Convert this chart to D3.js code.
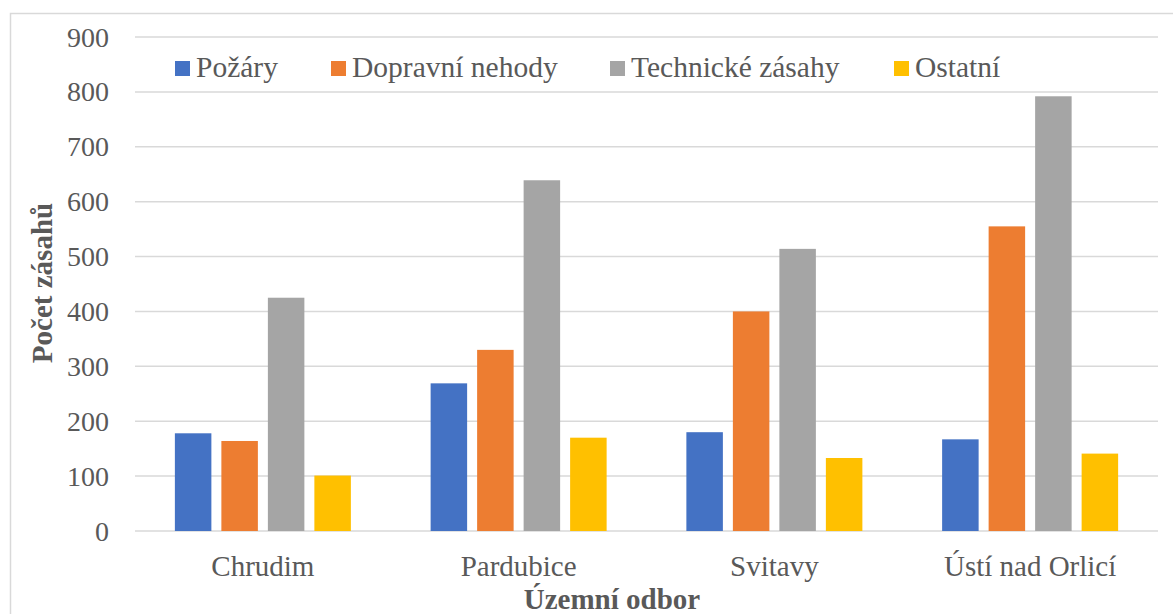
<!DOCTYPE html>
<html>
    <head>
        <title>Počet zásahů</title>
        <meta charset="UTF-8">
        <script type="text/javascript" src="https://cdnjs.cloudflare.com/ajax/libs/d3/7.8.5/d3.min.js"></script>
        <style type="text/css">
            body { margin: 0; background: #fff; }
        </style>
    </head>
    <body>
        <div id="chart"></div>

        <script type="text/javascript">

            var svgW = 1173;
            var svgH = 614;
            var fontFam = "'Liberation Serif', 'Times New Roman', serif";
            var textColor = "#595959";

            // categories (územní odbor)
            var categories = ["Chrudim", "Pardubice", "Svitavy", "Ústí nad Orlicí"];
            var seriesNames = ["Požáry", "Dopravní nehody", "Technické zásahy", "Ostatní"];
            var seriesColors = ["#4472C4", "#ED7D31", "#A5A5A5", "#FFC000"];

            // values per series, in category order
            var pozary = [178, 269, 180, 167];
            var dopravni = [164, 330, 400, 555];
            var technicke = [425, 639, 514, 792];
            var ostatni = [101, 170, 133, 141];

            var yTicks = [0, 100, 200, 300, 400, 500, 600, 700, 800, 900];

            var allSeries = [pozary, dopravni, technicke, ostatni];

            var plotL = 135, plotR = 1158, plotT = 37, plotB = 531;

            var svg = d3.select("#chart").append("svg")
                    .attr("width", svgW)
                    .attr("height", svgH)
                    .attr("font-family", fontFam);

            // chart frame (top + left edge visible)
            svg.append("path")
                    .attr("d", "M10.5," + svgH + "V13.5H" + svgW)
                    .attr("fill", "none")
                    .attr("stroke", "#D9D9D9")
                    .attr("stroke-width", 1.5);

            var x0 = d3.scaleBand()
                    .domain(categories)
                    .range([plotL, plotR])
                    .padding(0);

            var groupW = 176;
            var x1 = d3.scaleBand()
                    .domain(seriesNames)
                    .range([0, groupW])
                    .paddingInner(0.215)
                    .paddingOuter(0);

            var y = d3.scaleLinear()
                    .domain([0, 900])
                    .range([plotB, plotT]);

            // gridlines
            svg.append("g").selectAll("line")
                    .data(yTicks)
                    .enter()
                    .append("line")
                    .attr("x1", plotL)
                    .attr("x2", plotR)
                    .attr("y1", function (d) { return y(d); })
                    .attr("y2", function (d) { return y(d); })
                    .attr("stroke", "#D9D9D9")
                    .attr("stroke-width", 1.5);

            // y tick labels
            svg.append("g").selectAll("text")
                    .data(yTicks)
                    .enter()
                    .append("text")
                    .attr("x", 109)
                    .attr("y", function (d) { return y(d) + 9.5; })
                    .attr("text-anchor", "end")
                    .attr("font-family", fontFam)
                    .attr("font-size", 28)
                    .attr("fill", textColor)
                    .text(function (d) { return d; });

            // bars
            var groups = svg.append("g").selectAll("g")
                    .data(categories)
                    .enter()
                    .append("g")
                    .attr("transform", function (d) {
                        return "translate(" + (x0(d) + (x0.bandwidth() - groupW) / 2) + ",0)";
                    });

            groups.selectAll("rect")
                    .data(function (d, i) {
                        return seriesNames.map(function (s, k) {
                            return {name: s, value: allSeries[k][i], color: seriesColors[k]};
                        });
                    })
                    .enter()
                    .append("rect")
                    .attr("x", function (d) { return x1(d.name); })
                    .attr("width", x1.bandwidth())
                    .attr("y", function (d) { return y(d.value); })
                    .attr("height", function (d) { return y(0) - y(d.value); })
                    .attr("fill", function (d) { return d.color; });

            // category labels
            svg.append("g").selectAll("text")
                    .data(categories)
                    .enter()
                    .append("text")
                    .attr("x", function (d) { return x0(d) + x0.bandwidth() / 2; })
                    .attr("y", 576)
                    .attr("text-anchor", "middle")
                    .attr("font-family", fontFam)
                    .attr("font-size", 29)
                    .attr("fill", textColor)
                    .text(function (d) { return d; });

            // axis titles
            svg.append("text")
                    .attr("x", 612)
                    .attr("y", 609)
                    .attr("text-anchor", "middle")
                    .attr("font-family", fontFam)
                    .attr("font-size", 29)
                    .attr("font-weight", "bold")
                    .attr("fill", textColor)
                    .text("Územní odbor");

            svg.append("text")
                    .attr("transform", "translate(52,283) rotate(-90)")
                    .attr("text-anchor", "middle")
                    .attr("font-family", fontFam)
                    .attr("font-size", 29)
                    .attr("font-weight", "bold")
                    .attr("fill", textColor)
                    .text("Počet zásahů");

            // legend
            var legendX = [175, 331, 610, 894];
            var legend = svg.append("g").selectAll("g")
                    .data(seriesNames)
                    .enter()
                    .append("g")
                    .attr("transform", function (d, i) { return "translate(" + legendX[i] + ",61)"; });

            legend.append("rect")
                    .attr("width", 15)
                    .attr("height", 15)
                    .attr("fill", function (d, i) { return seriesColors[i]; });

            legend.append("text")
                    .attr("x", 21)
                    .attr("y", 16)
                    .attr("font-family", fontFam)
                    .attr("font-size", 29.5)
                    .attr("fill", textColor)
                    .text(function (d) { return d; });
        </script>

    </body>
</html>
